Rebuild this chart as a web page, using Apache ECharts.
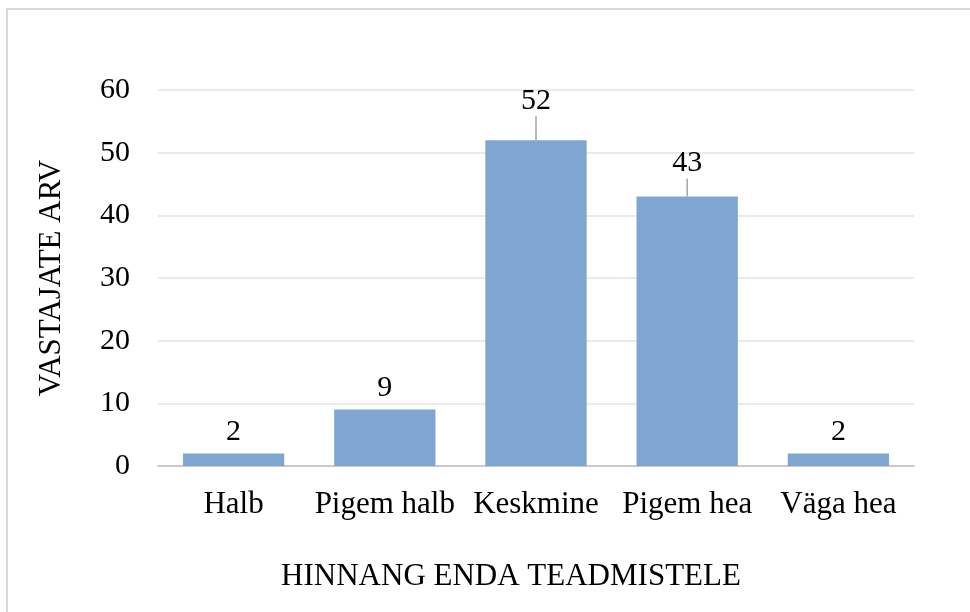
<!DOCTYPE html>
<html>
<head>
<meta charset="utf-8">
<script src="https://cdn.jsdelivr.net/npm/echarts@6/dist/echarts.min.js"></script>
<style>
  html, body { margin: 0; padding: 0; background: #fff; }
  #chart { width: 970px; height: 612px; }
</style>
</head>
<body>
<div id="chart"></div>
<script>
const categories = ['Halb', 'Pigem halb', 'Keskmine', 'Pigem hea', 'Väga hea'];
const counts = [2, 9, 52, 43, 2];
const yTicks = { min: 0, max: 60, interval: 10 };

const font = '"Liberation Serif", "Times New Roman", serif';
// labels of the tall bars sit higher, tied back with a short line
const labelLift = { 2: -18, 3: -12 };

const barData = counts.map(function (v, i) {
  return {
    value: v,
    labelLine: { show: labelLift[i] !== undefined }
  };
});

const chart = echarts.init(document.getElementById('chart'));

chart.setOption({
  animation: false,
  textStyle: { fontFamily: font },
  graphic: [{
    type: 'rect',
    shape: { x: 7, y: 9, width: 1000, height: 700 },
    style: { fill: 'transparent', stroke: '#d9d9d9', lineWidth: 2 }
  }],
  grid: { left: 158, right: 56, top: 90, bottom: 146 },
  xAxis: {
    type: 'category',
    data: categories,
    axisTick: { show: false },
    axisLine: { lineStyle: { color: '#bfbfbf', width: 1.5 } },
    axisLabel: { color: '#000', fontSize: 31, margin: 23, interval: 0, fontFamily: font },
    name: 'HINNANG ENDA TEADMISTELE',
    nameLocation: 'middle',
    nameGap: 95,
    nameTextStyle: { color: '#000', fontSize: 31, fontFamily: font, padding: [0, 50, 0, 0] }
  },
  yAxis: {
    type: 'value',
    min: yTicks.min,
    max: yTicks.max,
    interval: yTicks.interval,
    axisLine: { show: false },
    axisTick: { show: false },
    splitLine: { lineStyle: { color: '#e3e3e3', width: 1.5 } },
    axisLabel: { color: '#000', fontSize: 30, margin: 28, fontFamily: font },
    name: 'VASTAJATE ARV',
    nameLocation: 'middle',
    nameGap: 91,
    nameTextStyle: { color: '#000', fontSize: 31, fontFamily: font }
  },
  series: [{
    type: 'bar',
    data: barData,
    barWidth: '67%',
    itemStyle: { color: '#7fa6d1' },
    label: {
      show: true,
      position: 'top',
      distance: 6,
      color: '#000',
      fontSize: 30,
      fontFamily: font
    },
    labelLine: { lineStyle: { color: '#a6a6a6', width: 1.5 } },
    labelLayout: function (p) {
      const dy = labelLift[p.dataIndex];
      return dy !== undefined ? { dy: dy } : {};
    }
  }]
});
</script>
</body>
</html>
